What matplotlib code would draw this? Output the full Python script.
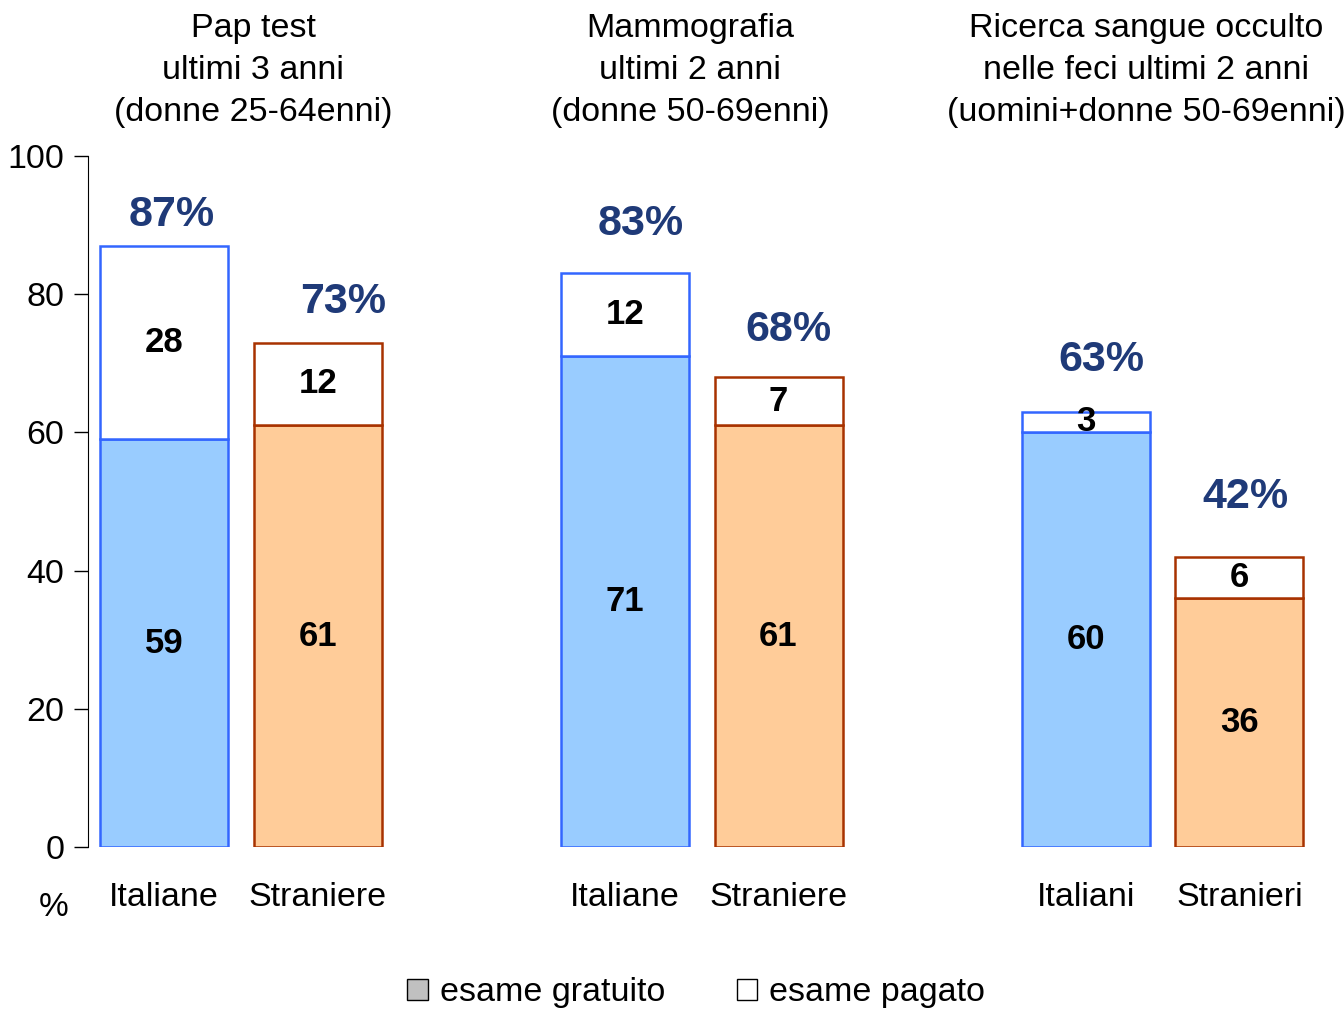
import matplotlib.pyplot as plt
from matplotlib.patches import Patch

plt.rcParams['font.family'] = ['Liberation Sans', 'DejaVu Sans']

categorie = ['Italiane', 'Straniere', 'Italiane', 'Straniere', 'Italiani', 'Stranieri']
gratuito = [59, 61, 71, 61, 60, 36]
pagato = [28, 12, 12, 7, 3, 6]
totale = [87, 73, 83, 68, 63, 42]
titoli = ['Pap test\nultimi 3 anni\n(donne 25-64enni)',
          'Mammografia\nultimi 2 anni\n(donne 50-69enni)',
          'Ricerca sangue occulto\nnelle feci ultimi 2 anni\n(uomini+donne 50-69enni)']

# layout
pos = [0, 1.2, 3.6, 4.8, 7.2, 8.4]
fill = ['#99CCFF', '#FFCC99'] * 3
edge = ['#3366FF', '#A83200'] * 3
pct_dy = [4.5, 5.9, 7.1, 6.8, 7.4, 8.7]
pct_dx = [0.06, 0.2, 0.12, 0.08, 0.12, 0.05]
titolo_x = [0.695, 4.11, 7.67]

fig = plt.figure(figsize=(13.44, 10.10), dpi=100)
ax = fig.add_axes([0.0655, 0.1614, 0.9167, 0.6842])

for i in range(len(pos)):
    ax.bar(pos[i], gratuito[i], width=1.0, color=fill[i], edgecolor=edge[i], linewidth=1.8)
    ax.bar(pos[i], pagato[i], bottom=gratuito[i], width=1.0, color='white',
           edgecolor=edge[i], linewidth=1.8)
    ax.text(pos[i], gratuito[i] / 2, str(gratuito[i]), ha='center', va='center',
            fontsize=25, fontweight='bold')
    ax.text(pos[i], gratuito[i] + pagato[i] / 2, str(pagato[i]), ha='center', va='center',
            fontsize=25, fontweight='bold')
    ax.text(pos[i] + pct_dx[i], totale[i] + pct_dy[i], f'{totale[i]}%', ha='center',
            va='center', fontsize=31, fontweight='bold', color='#1F3A78')

for x, t in zip(titolo_x, titoli):
    ax.text(x, 112.4, t, ha='center', va='center', fontsize=24.5, linespacing=1.45,
            clip_on=False)

ax.set_xlim(-0.594, 9.03)
ax.set_ylim(0, 100)
ax.set_yticks(range(0, 101, 20))
ax.set_xticks(pos)
ax.set_xticklabels(categorie)
ax.tick_params(axis='x', length=0, pad=25, labelsize=24.5)
ax.tick_params(axis='y', length=10, width=1, labelsize=24.5, pad=7)
for s in ['top', 'right', 'bottom']:
    ax.spines[s].set_visible(False)
ax.text(-0.86, -8.8, '%', ha='center', va='center', fontsize=24, clip_on=False)

handles = [Patch(facecolor='#C0C0C0', edgecolor='black', label='esame gratuito'),
           Patch(facecolor='white', edgecolor='black', label='esame pagato')]
fig.legend(handles=handles, loc='center', bbox_to_anchor=(0.518, 0.017), ncol=2,
           frameon=False, fontsize=24.5, handlelength=0.6, handleheight=0.6,
           handletextpad=0.35, columnspacing=2.1)

fig.savefig('out.png', dpi=100)
